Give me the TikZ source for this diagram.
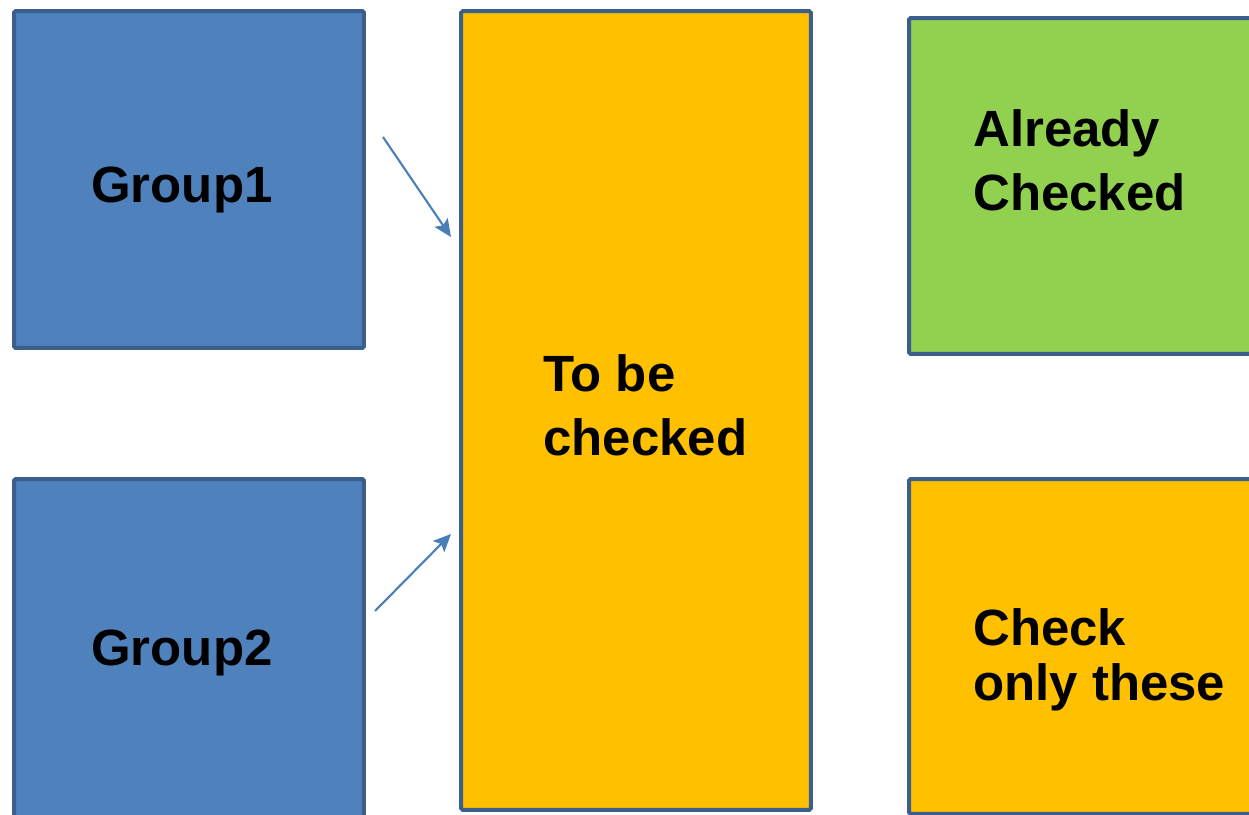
\documentclass[tikz,border=0pt]{standalone}
\usepackage{fontspec}
\setmainfont{Liberation Sans}
\usetikzlibrary{arrows.meta}

\definecolor{edgeblue}{HTML}{3B5E8C}
\definecolor{grpblue}{HTML}{4F81BD}
\definecolor{todoorange}{HTML}{FFC000}
\definecolor{donegreen}{HTML}{92D050}
\definecolor{arrowblue}{HTML}{4A7EBB}

\tikzset{
  box/.style={draw=edgeblue, line width=2.3pt, rounded corners=1pt, inner sep=0pt},
  lbl/.style={anchor=base west, inner sep=0pt, font=\fontsize{29}{36}\selectfont\bfseries, align=left},
  link/.style={arrowblue, line width=1.2pt}
}

\begin{document}
\begin{tikzpicture}[x=0.02cm, y=-0.02cm, >={Stealth[length=10pt,width=9pt,inset=2pt]}]
  \useasboundingbox (0,0) rectangle (1249,815);
  \clip (0,0) rectangle (1249,815);

  % left column
  \node[box, fill=grpblue, minimum width=7cm, minimum height=6.74cm] (g1) at (189,179.5) {};
  \node[box, fill=grpblue, minimum width=7cm, minimum height=8.4cm] (g2) at (189,689) {};
  \node[lbl] (g1txt) at (91,202) {Group1};
  \node[lbl] (g2txt) at (91,665) {Group2};

  % middle column
  \node[box, fill=todoorange, minimum width=7cm, minimum height=15.98cm] (todo) at (636,410.5) {};
  \node[lbl] (todotxt) at (543,455) {To be\\checked};

  % right column
  \node[box, fill=donegreen, minimum width=9cm, minimum height=6.72cm] (done) at (1134,186) {};
  \node[lbl] (donetxt) at (973,210) {Already\\Checked};
  \node[box, fill=todoorange, minimum width=9cm, minimum height=6.7cm] (only) at (1134,646.5) {};
  \node[lbl, font=\fontsize{29}{31}\selectfont\bfseries] (onlytxt) at (973,700) {Check\\only these};

  % arrows
  \coordinate (a1s) at (383,137);
  \coordinate (a1e) at (451,237);
  \coordinate (a2s) at (375,611);
  \coordinate (a2e) at (451,534);
  \draw[link, ->] (a1s) -- (a1e);
  \draw[link, ->] (a2s) -- (a2e);
\end{tikzpicture}
\end{document}
